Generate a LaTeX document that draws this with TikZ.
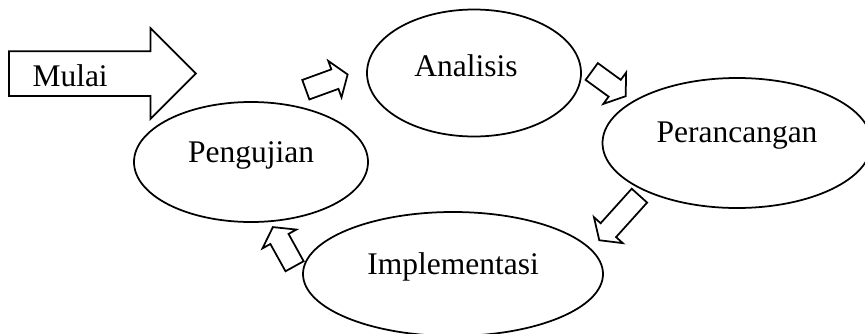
\documentclass[tikz,border=0pt]{standalone}
\usepackage{fontspec}
\setmainfont{Liberation Serif}
\usetikzlibrary{shapes.geometric,shapes.arrows,positioning}

\tikzset{
  stage/.style 2 args={ellipse, draw, line width=0.7pt, inner sep=0pt,
    minimum width=#1, minimum height=#2},
  txt/.style={anchor=base, yshift=2.8pt, inner sep=0pt},
  flow/.style={single arrow, draw, line width=0.7pt, inner xsep=0pt,
    inner ysep=3.8pt, single arrow head extend=3.6pt,
    single arrow tip angle=110, anchor=tail},
}

\begin{document}
\begin{tikzpicture}[x=0.4pt, y=-0.4pt, font=\fontsize{12.6}{15}\selectfont]
\useasboundingbox (0,0) rectangle (865,333);
% start
\node[single arrow, draw, line width=0.7pt, inner xsep=0pt, inner ysep=8.6pt,
  single arrow head extend=9.2pt, single arrow tip angle=90,
  minimum height=74.8pt, anchor=tail] (mulai) at (8,73.5) {};
\node[inner sep=0pt, right=9.6pt of mulai.tail, yshift=-1pt] (mulai-t) {Mulai};
% the four stages
\node[stage={85.6pt}{50.8pt}, label={[txt, xshift=-3.2pt]center:Analisis}] (ana) at (474,73) {};
\node[stage={107.6pt}{52pt}, label={[txt]center:Perancangan}] (per) at (737,143) {};
\node[stage={120pt}{49.6pt}, label={[txt]center:Implementasi}] (imp) at (453,274) {};
\node[stage={93.6pt}{48pt}, label={[txt]center:Pengujian}] (pen) at (251,162) {};
% block arrows between stages
\node[flow, minimum height=17.8pt, rotate=20] (a1) at (305,90) {};
\node[flow, minimum height=16.8pt, rotate=-36] (a2) at (591,71) {};
\node[flow, minimum height=24pt, rotate=-132] (a3) at (640,195) {};
\node[flow, minimum height=17.9pt, rotate=119] (a4) at (295,267) {};
\end{tikzpicture}
\end{document}
